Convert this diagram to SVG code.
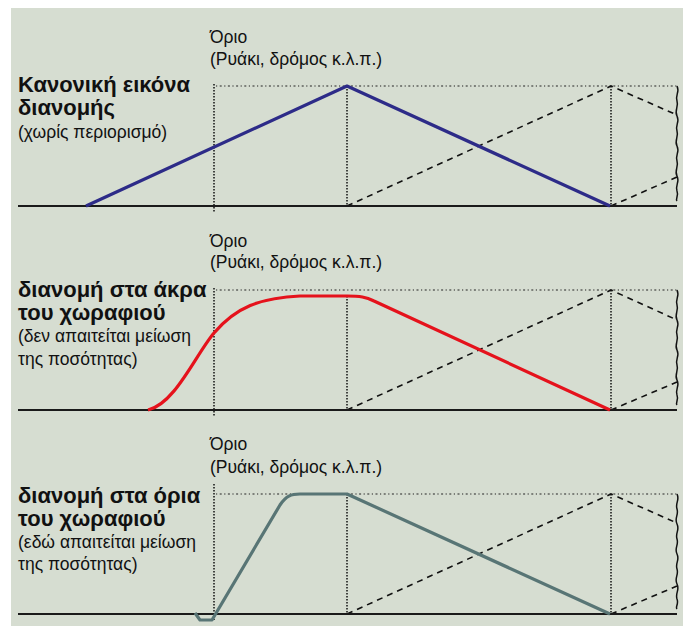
<svg xmlns="http://www.w3.org/2000/svg" width="683" height="626" viewBox="0 0 683 626">
<defs>
<style>
.bg{fill:#d6ddd1}
.base{stroke:#1a1a1a;stroke-width:2;fill:none}
.vdot{stroke:#111;stroke-width:1.5;stroke-dasharray:1.5 1.5;fill:none}
.hdot{stroke:#222;stroke-width:1.2;stroke-dasharray:1.2 2.5 2 2.5;fill:none}
.dash{stroke:#111;stroke-width:1.6;stroke-dasharray:6 5;fill:none}
.wave{stroke:#111;stroke-width:1.5;fill:none}
.t{font-family:"Liberation Sans",Arial,sans-serif;fill:#111}
.lab{font-size:17.5px}
.title{font-size:22px;font-weight:bold}
.sub{font-size:17.5px}
.blue{stroke:#2d2b88;stroke-width:3.2;fill:none;stroke-linejoin:round}
.red{stroke:#e5121c;stroke-width:3.2;fill:none;stroke-linejoin:round}
.gray{stroke:#587575;stroke-width:3.2;fill:none;stroke-linejoin:round}
</style>
</defs>
<rect class="bg" x="11" y="8" width="672" height="618"/>

<g id="panel1">
<text class="t lab" x="210" y="43">Όριο</text>
<text class="t lab" x="210" y="65">(Ρυάκι, δρόμος κ.λ.π.)</text>
<text class="t title" x="18" y="92">Κανονική εικόνα</text>
<text class="t title" x="18" y="115">διανομής</text>
<text class="t sub" x="18" y="138">(χωρίς περιορισμό)</text>
</g>
<g id="panel2">
<text class="t lab" x="210" y="247">Όριο</text>
<text class="t lab" x="210" y="268">(Ρυάκι, δρόμος κ.λ.π.)</text>
<text class="t title" x="18" y="297">διανομή στα άκρα</text>
<text class="t title" x="18" y="320">του χωραφιού</text>
<text class="t sub" x="18" y="342">(δεν απαιτείται μείωση</text>
<text class="t sub" x="18" y="365">της ποσότητας)</text>
</g>
<g id="panel3">
<text class="t lab" x="210" y="450">Όριο</text>
<text class="t lab" x="210" y="473">(Ρυάκι, δρόμος κ.λ.π.)</text>
<text class="t title" x="18" y="503">διανομή στα όρια</text>
<text class="t title" x="18" y="526">του χωραφιού</text>
<text class="t sub" x="18" y="548">(εδώ απαιτείται μείωση</text>
<text class="t sub" x="18" y="570">της ποσότητας)</text>
</g>

<g id="connectors">
<!-- panel 1 -->
<path class="hdot" d="M216,86 H677"/>
<path class="vdot" d="M214,84 V212"/>
<path class="vdot" d="M347,86 V206"/>
<path class="vdot" d="M611,86 V206"/>
<path class="dash" d="M347,206 L611,86 L677,115"/>
<path class="dash" d="M611,206 L677,177"/>
<path class="wave" d="M677,86 c3,6 -2,9 0,15 c2,6 -3,9 0,15 c3,6 -2,9 0,15 c2,6 -3,9 0,15 c3,6 -2,9 0,15 c2,6 -3,9 0,15 c3,6 -2,9 0,15 c2,5 -2,8 0,10"/>
<path class="base" d="M18,206 H677"/>
<path class="blue" d="M86,206 L347,86 L610,206"/>

<!-- panel 2 -->
<path class="hdot" d="M216,290 H677"/>
<path class="vdot" d="M214,288 V416"/>
<path class="vdot" d="M347,296 V410"/>
<path class="vdot" d="M611,290 V410"/>
<path class="dash" d="M347,410 L611,290 L677,320"/>
<path class="dash" d="M611,410 L677,382"/>
<path class="wave" d="M677,290 c3,6 -2,9 0,15 c2,6 -3,9 0,15 c3,6 -2,9 0,15 c2,6 -3,9 0,15 c3,6 -2,9 0,15 c2,6 -3,9 0,15 c3,6 -2,9 0,15 c2,5 -2,8 0,10"/>
<path class="base" d="M18,410 H677"/>
<path class="red" d="M148,410 C175,404 196,354 214,333 C236,307 260,298 300,296 L347,296 C360,296 366,297 374,301 L610,410"/>

<!-- panel 3 -->
<path class="hdot" d="M216,494 H677"/>
<path class="vdot" d="M214,484 V620"/>
<path class="vdot" d="M347,494 V614"/>
<path class="vdot" d="M611,494 V614"/>
<path class="dash" d="M347,614 L611,494 L677,523"/>
<path class="dash" d="M611,614 L677,586"/>
<path class="wave" d="M677,494 c3,6 -2,9 0,15 c2,6 -3,9 0,15 c3,6 -2,9 0,15 c2,6 -3,9 0,15 c3,6 -2,9 0,15 c2,6 -3,9 0,15 c3,6 -2,9 0,15 c2,5 -2,8 0,10"/>
<path class="base" d="M18,614 H677"/>
<path class="gray" d="M195,613 L200,620 L212,620 L280,505 C286,496 291,494 300,494 L347,494 L610,614"/>
</g>
</svg>
